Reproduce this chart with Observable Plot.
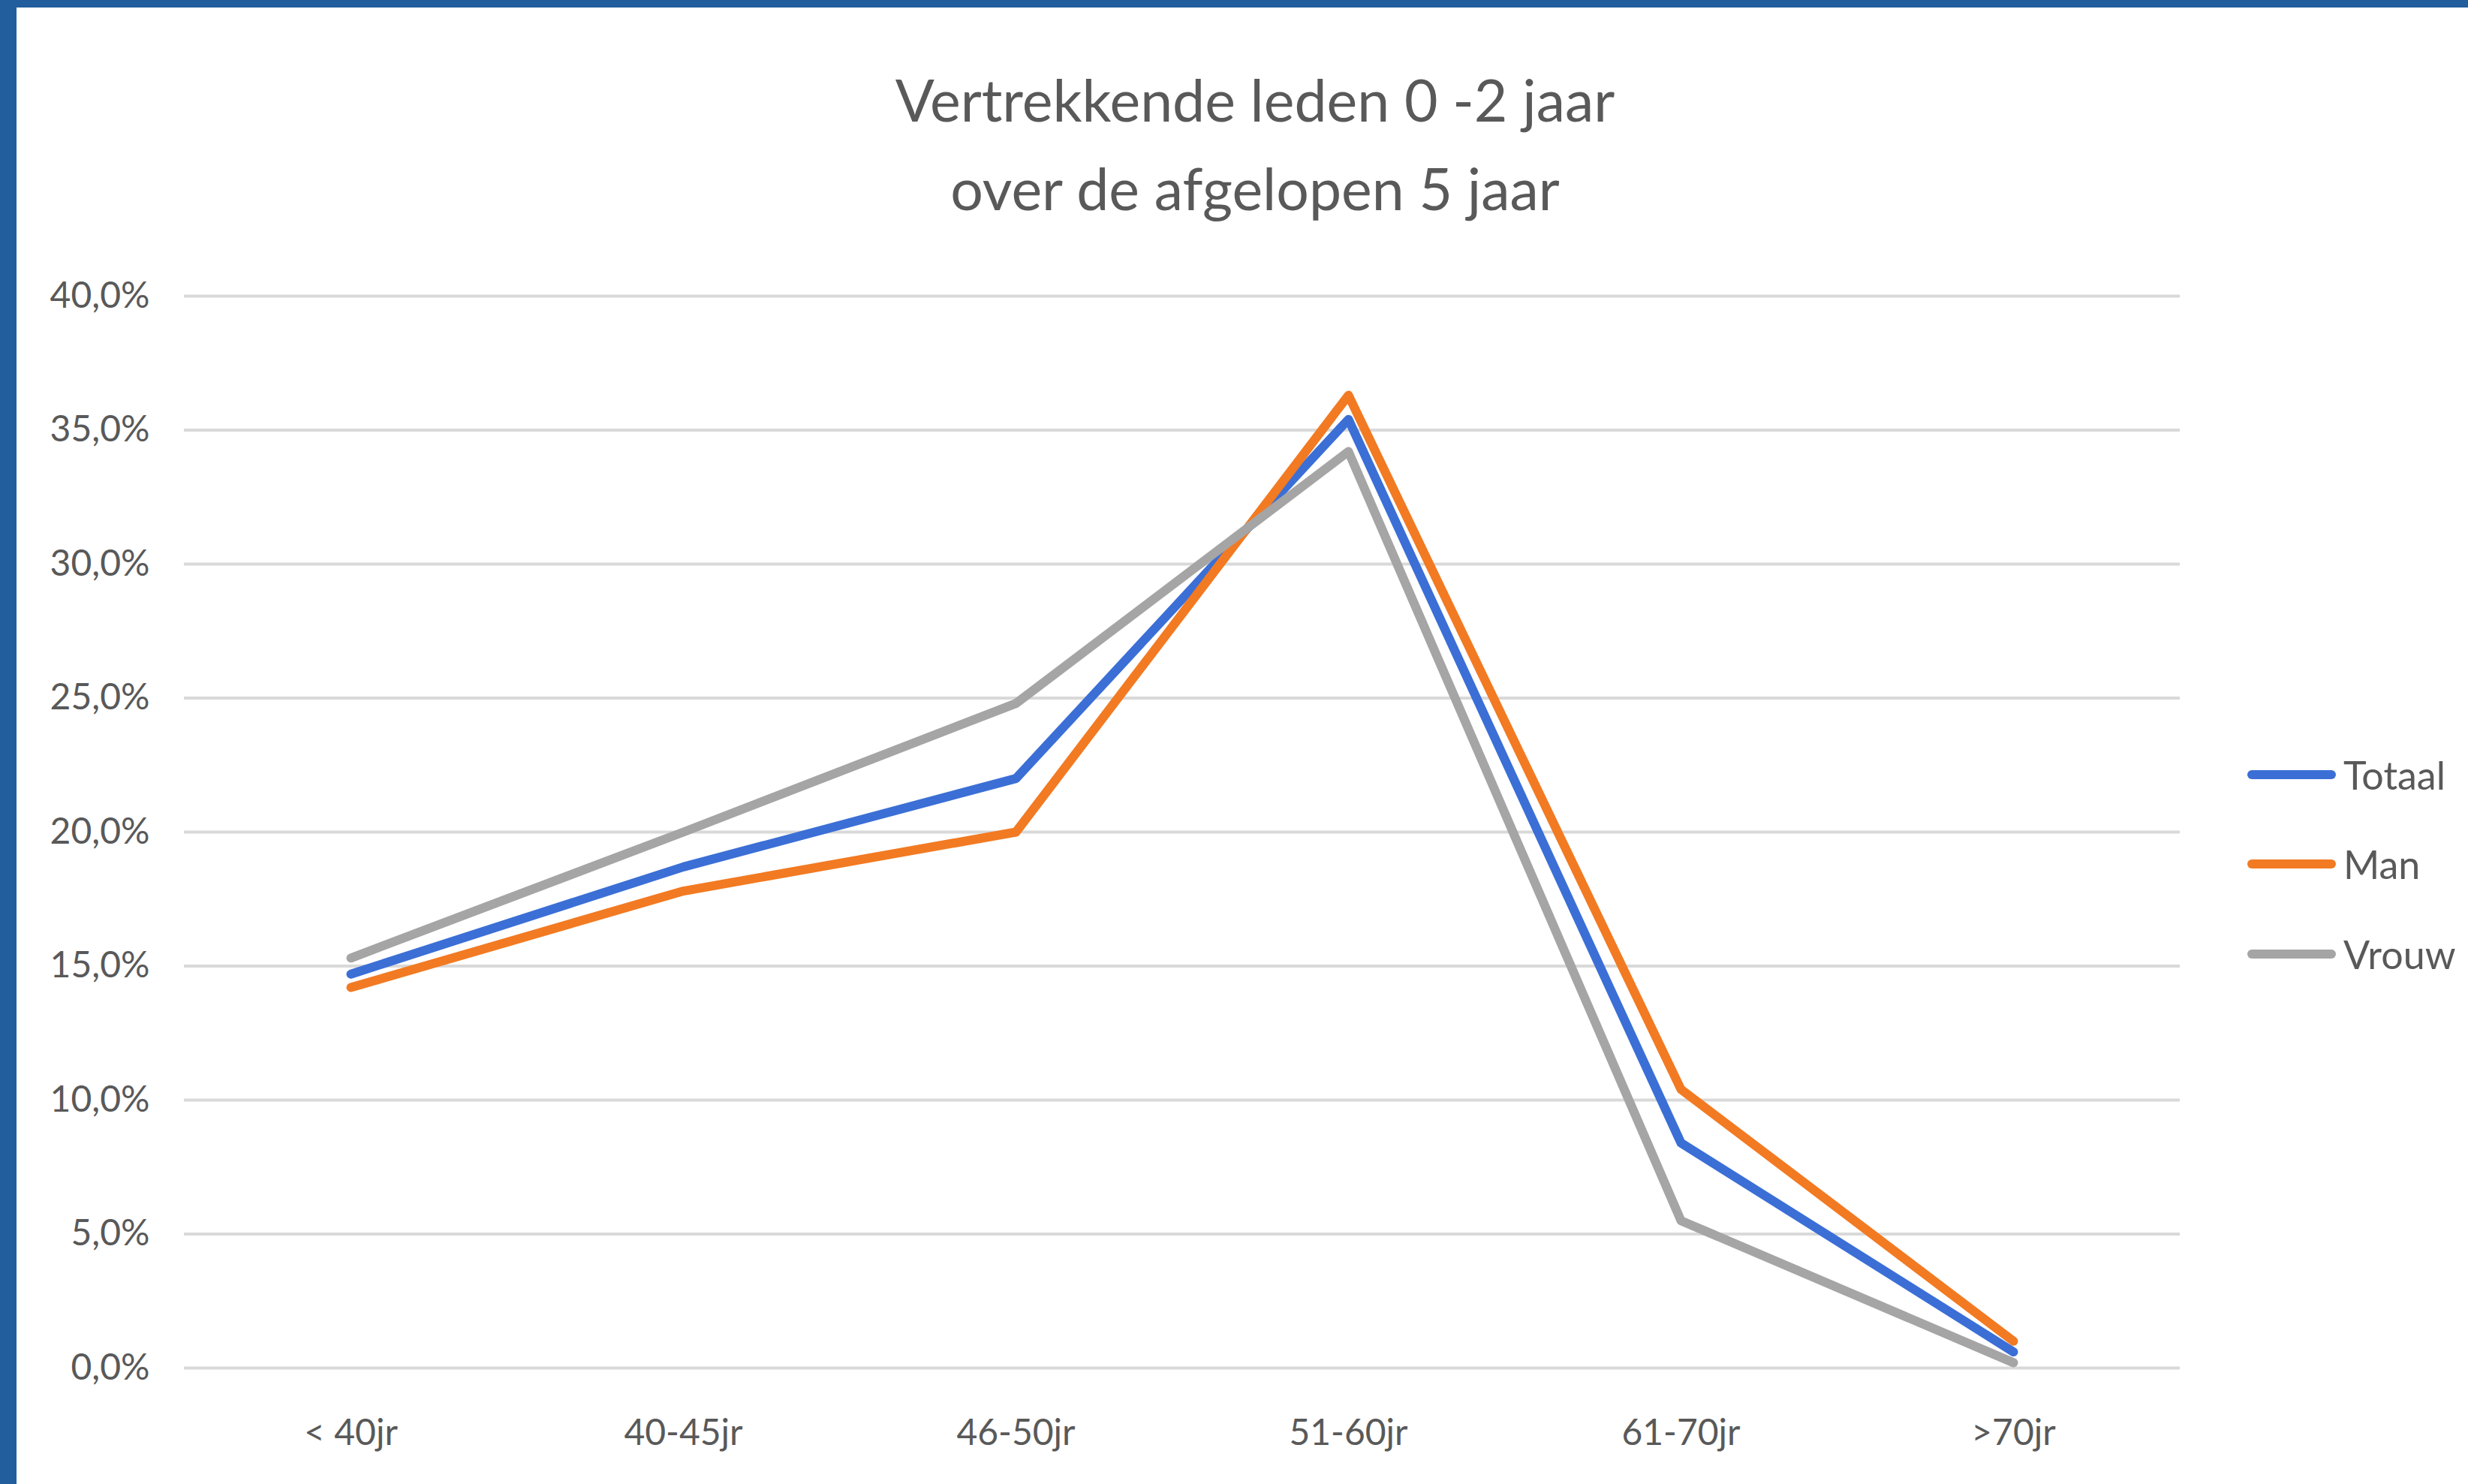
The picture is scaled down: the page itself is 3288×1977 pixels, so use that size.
<!DOCTYPE html>
<html>
<head>
<meta charset="utf-8">
<script src="https://cdn.jsdelivr.net/npm/d3@7"></script>
<script src="https://cdn.jsdelivr.net/npm/@observablehq/plot@0.6"></script>
<style>
  html, body { margin: 0; padding: 0; background: #fff; }
  #frame { position: relative; width: 3288px; height: 1977px; overflow: hidden; background: #fff; font-family: Lato, "Open Sans", sans-serif; color: #595959; }
  .bar-top { position: absolute; left: 0; top: 0; width: 3288px; height: 10px; background: #225D9D; }
  .bar-left { position: absolute; left: 0; top: 0; width: 22px; height: 1977px; background: #225D9D; }
  .title { position: absolute; left: 1672px; transform: translateX(-50%); white-space: nowrap; font-size: 77px; line-height: 77px; color: #595959; }
  #chart { position: absolute; left: 0; top: 300px; }
  #legend { position: absolute; left: 2994px; top: 972px; }
  .lg-row { display: flex; align-items: center; height: 119.5px; }
  .lg-row span { font-size: 52px; margin-left: 10px; color: #595959; }
</style>
</head>
<body>
<div id="frame">
  <div class="bar-top"></div>
  <div class="bar-left"></div>
  <div class="title" style="top: 94px;">Vertrekkende leden 0 -2 jaar</div>
  <div class="title" style="top: 212px;">over de afgelopen 5 jaar</div>
  <div id="chart"></div>
  <div id="legend"></div>
</div>
<script>
const categories = ["< 40jr", "40-45jr", "46-50jr", "51-60jr", "61-70jr", ">70jr"];
const seriesNames = ["Totaal", "Man", "Vrouw"];
const totaal = [14.7, 18.7, 22.0, 35.4, 8.4, 0.6];
const man    = [14.2, 17.8, 20.0, 36.3, 10.4, 1.0];
const vrouw  = [15.3, 20.0, 24.8, 34.2, 5.5, 0.2];
const colors = ["#3B6FD6", "#F27A22", "#A5A5A5"];
const yTicks = [0, 5, 10, 15, 20, 25, 30, 35, 40];

const seriesValues = [totaal, man, vrouw];
const data = [];
seriesNames.forEach((s, i) => {
  categories.forEach((c, j) => data.push({series: s, cat: c, value: seriesValues[i][j]}));
});

const fmt = d => d.toFixed(1).replace(".", ",") + "%";

const chart = Plot.plot({
  width: 3288,
  height: 1677,
  marginLeft: 245,
  marginRight: 384,
  marginTop: 94,
  marginBottom: 155,
  style: { fontFamily: "Lato, 'Open Sans', sans-serif", fontSize: "48px", color: "#595959", background: "transparent" },
  x: { type: "point", domain: categories, padding: 0.5, label: null },
  y: { domain: [0, 40], label: null },
  color: { domain: seriesNames, range: colors },
  marks: [
    Plot.gridY(yTicks, { stroke: "#D9D9D9", strokeOpacity: 1, strokeWidth: 4 }),
    Plot.axisY(yTicks, { tickSize: 0, tickPadding: 46, tickFormat: fmt, fontSize: 48, fill: "#595959", label: null }),
    Plot.axisX({ tickSize: 0, tickPadding: 68, fontSize: 48, fill: "#595959", label: null }),
    Plot.line(data, { x: "cat", y: "value", z: "series", stroke: "series", strokeWidth: 12, strokeLinejoin: "round", strokeLinecap: "round" })
  ]
});
document.getElementById("chart").appendChild(chart);

const legend = document.getElementById("legend");
seriesNames.forEach((s, i) => {
  const row = document.createElement("div");
  row.className = "lg-row";
  row.innerHTML = `<svg width="118" height="16"><line x1="6" y1="8" x2="112" y2="8" stroke="${colors[i]}" stroke-width="12" stroke-linecap="round"/></svg><span>${s}</span>`;
  legend.appendChild(row);
});
</script>
</body>
</html>
